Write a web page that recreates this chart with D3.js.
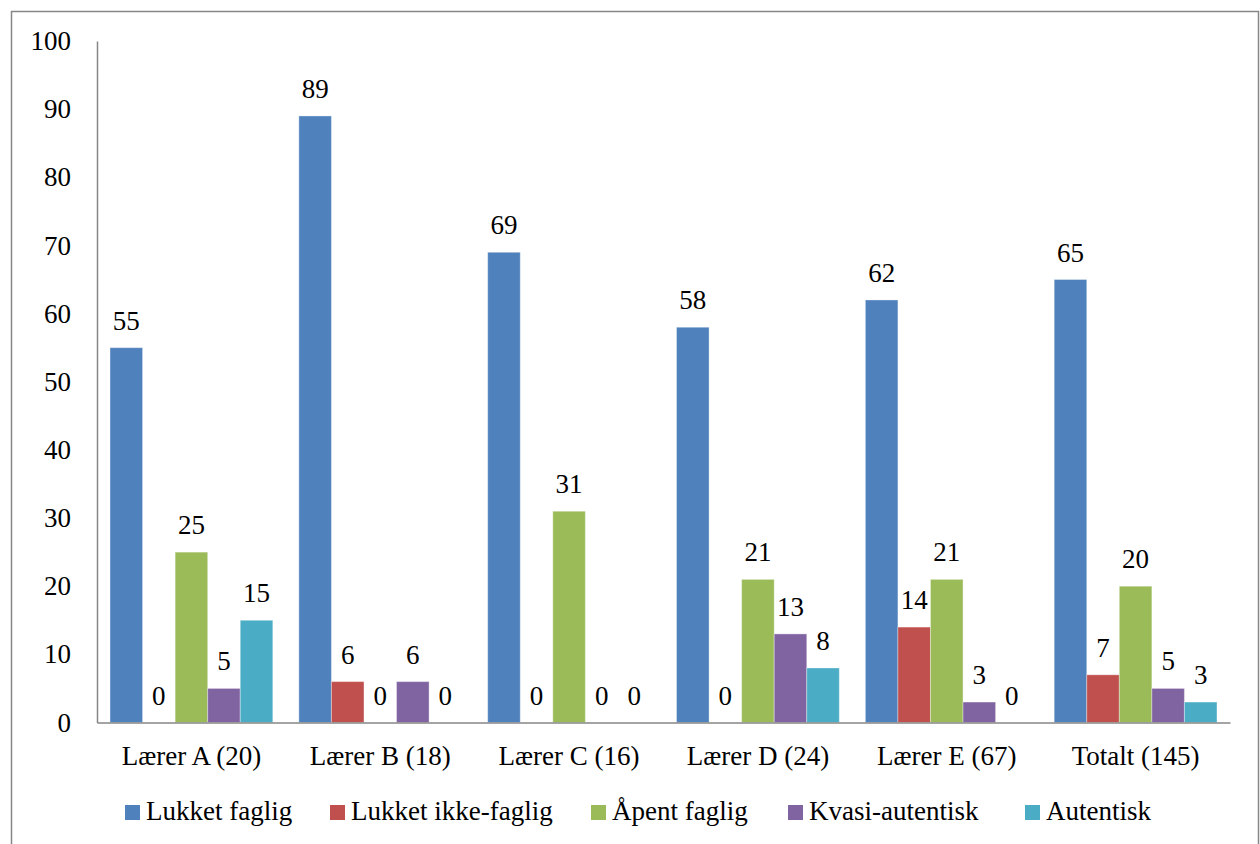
<!DOCTYPE html>
<html><head><meta charset="utf-8">
<script src="https://cdn.jsdelivr.net/npm/d3@7"></script>
<style>body{margin:0;background:#fff}svg{display:block}</style>
</head><body>
<svg id="c" width="1260" height="844"></svg>
<script>
const categories = ["Lærer A (20)","Lærer B (18)","Lærer C (16)","Lærer D (24)","Lærer E (67)","Totalt (145)"];
const seriesNames = ["Lukket faglig","Lukket ikke-faglig","Åpent faglig","Kvasi-autentisk","Autentisk"];
const lukketFaglig = [55,89,69,58,62,65];
const lukketIkkeFaglig = [0,6,0,0,14,7];
const apentFaglig = [25,0,31,21,21,20];
const kvasiAutentisk = [5,6,0,13,3,5];
const autentisk = [15,0,0,8,0,3];
const yTicks = [0,10,20,30,40,50,60,70,80,90,100];
const colors = ["#4F81BD","#C0504D","#9BBB59","#8064A2","#4BACC6"];
const series = [lukketFaglig,lukketIkkeFaglig,apentFaglig,kvasiAutentisk,autentisk];

const svg = d3.select("#c");
const font = "'Liberation Serif', 'Times New Roman', serif";
const fs = 27;
svg.append("path").attr("d","M11.5,850 V11.5 H1258.5 V850").attr("fill","none").attr("stroke","#868686").attr("stroke-width",1.5);

const pLeft=97, pRight=1230, pTop=41, pBottom=722.5;
const x0 = d3.scaleBand().domain(categories).range([pLeft,pRight]).paddingInner(0).paddingOuter(0);
const x1 = d3.scaleBand().domain(seriesNames).range([0,x0.bandwidth()]).paddingOuter(0.4).paddingInner(0);
const y = d3.scaleLinear().domain([0,100]).range([pBottom,pTop]);

const ya = svg.append("g").attr("transform",`translate(${pLeft},0)`).call(d3.axisLeft(y).tickValues(yTicks).tickSize(0).tickPadding(26));
ya.select(".domain").attr("stroke","#868686").attr("stroke-width",1.5);
ya.selectAll("text").attr("font-family",font).attr("font-size",fs).attr("fill","#000");

categories.forEach((c,ci)=>{
  series.forEach((s,si)=>{
    const v=s[ci];
    const g=svg.append("g");
    if(v>0){
      g.append("rect").attr("x",x0(c)+x1(seriesNames[si])).attr("y",y(v)).attr("width",x1.bandwidth()).attr("height",y(0)-y(v))
       .attr("fill",colors[si]).attr("stroke","#fff").attr("stroke-opacity",0.35).attr("stroke-width",1);
    }
    g.append("text").attr("x",x0(c)+x1(seriesNames[si])+x1.bandwidth()/2).attr("y",y(v)-18)
     .attr("text-anchor","middle").attr("font-family",font).attr("font-size",fs).attr("fill","#000").text(v);
  });
});

const xa = svg.append("g").attr("transform",`translate(0,${pBottom})`).call(d3.axisBottom(x0).tickSize(0).tickPadding(23));
xa.select(".domain").attr("stroke","#868686").attr("stroke-width",1.5);
xa.selectAll("text").attr("font-family",font).attr("font-size",fs).attr("fill","#000");

const legX=[125,330,591,788,1025];
seriesNames.forEach((n,i)=>{
  svg.append("rect").attr("x",legX[i]).attr("y",805).attr("width",15).attr("height",15).attr("fill",colors[i]);
  svg.append("text").attr("x",legX[i]+21).attr("y",820).attr("font-family",font).attr("font-size",fs).attr("fill","#000").text(n);
});
</script>
</body></html>
